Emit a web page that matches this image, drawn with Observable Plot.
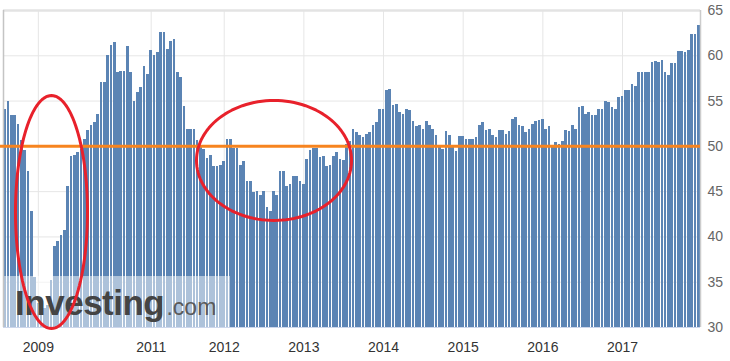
<!DOCTYPE html>
<html><head><meta charset="utf-8">
<script src="https://cdn.jsdelivr.net/npm/d3@7"></script>
<script src="https://cdn.jsdelivr.net/npm/@observablehq/plot@0.6"></script>
<style>
html,body{margin:0;padding:0;background:#fff;}
#chart svg{display:block;}
</style></head><body><div id="chart"></div>
<script>
// Germany manufacturing PMI releases (flash + final)
const values = [
  54.1, 54.9, 53.4, 53.4, 52.4, 50.6, 49.5, 47.2, 42.8, 35.5,
  32.7, 32.0, 32.1, 32.4, 35.2, 38.9, 39.5, 40.2, 40.7, 45.6,
  48.9, 49.0, 49.3, 49.7, 50.8, 51.8, 52.3, 52.6, 53.5, 57.0,
  57.0, 60.0, 61.1, 61.5, 58.2, 58.3, 58.3, 61.0, 58.2, 54.9,
  56.0, 56.5, 58.8, 57.9, 60.6, 60.0, 60.4, 62.6, 62.6, 60.7,
  61.6, 61.8, 58.2, 57.6, 54.4, 51.9, 51.9, 51.9, 50.6, 49.9,
  49.7, 48.7, 49.0, 47.8, 47.8, 47.9, 48.3, 50.8, 50.8, 49.8,
  49.8, 47.9, 48.3, 46.1, 46.1, 44.9, 45.0, 44.6, 45.0, 43.2,
  42.8, 45.0, 44.6, 47.2, 47.2, 45.6, 45.8, 46.7, 46.7, 46.1,
  45.8, 48.5, 49.5, 49.8, 49.8, 48.8, 48.9, 47.8, 47.9, 48.9,
  49.3, 48.5, 48.4, 50.2, 50.5, 51.9, 51.5, 51.2, 51.0, 51.3,
  51.5, 52.3, 52.6, 54.1, 54.1, 56.2, 56.3, 54.5, 54.6, 53.7,
  53.5, 54.1, 54.0, 52.7, 52.2, 52.3, 51.9, 52.7, 52.3, 51.9,
  51.2, 50.1, 49.6, 51.6, 51.2, 50.0, 49.4, 51.1, 51.1, 50.8,
  50.8, 50.8, 51.0, 52.3, 52.6, 51.7, 51.9, 51.2, 51.0, 51.7,
  51.7, 51.3, 51.6, 53.0, 53.2, 52.3, 52.2, 51.5, 51.9, 52.4,
  52.7, 52.9, 53.0, 51.9, 52.2, 49.9, 50.4, 50.2, 50.5, 51.7,
  51.6, 52.3, 51.9, 54.3, 54.4, 53.5, 53.7, 53.4, 53.4, 54.1,
  54.1, 54.9, 54.8, 54.3, 54.1, 55.4, 55.5, 56.2, 56.2, 56.8,
  56.6, 58.1, 58.1, 58.1, 58.1, 59.3, 59.4, 59.3, 59.5, 58.1,
  57.8, 59.2, 59.2, 60.5, 60.5, 60.4, 60.6, 62.3, 62.3, 63.3
];
const yearTickIndex = [10, 44, 66, 90, 114, 138, 162, 186];
const yearTickLabel = ["2009", "2011", "2012", "2013", "2014", "2015", "2016", "2017"];
const yTicks = [30, 35, 40, 45, 50, 55, 60, 65];
const threshold = [50];
// hand-drawn annotation ellipses (in release-index / PMI units)
const ellipses = [
  {cx: 13.96, cy: 42.75, rx: 10.85, ry: 12.86},
  {cx: 81.0, cy: 48.44, rx: 23.35, ry: 6.62}
];
const watermarkBox = {x1: -0.5, x2: 67.9, y1: 30, y2: 35.63};
const watermarkText = [{text: "Investing", x: 3.0, y: 31.35}];
const watermarkCom = [{text: ".com", x: 48.6, y: 31.35}];

const N = values.length;
const data = values.map((v, i) => ({i, v}));
const ellipsePts = ellipses.flatMap((e, k) =>
  d3.range(0, 361, 3).map(a => ({k, x: e.cx + e.rx * Math.cos(a * Math.PI / 180), y: e.cy + e.ry * Math.sin(a * Math.PI / 180)})));

const font = '"Liberation Sans", Arial, sans-serif';
const chart = Plot.plot({
  width: 730, height: 361,
  marginLeft: 3, marginRight: 30, marginTop: 10, marginBottom: 34,
  style: {fontFamily: font, fontSize: "14px", background: "#fff", overflow: "visible"},
  x: {type: "linear", domain: [-0.5, N - 0.5], axis: null},
  y: {domain: [30, 65], axis: null},
  marks: [
    Plot.gridY(yTicks.filter(d => d > 30 && d < 65), {stroke: "#e6e6e6", strokeOpacity: 1}),
    Plot.gridX(yearTickIndex, {stroke: "#e6e6e6", strokeOpacity: 1}),
    Plot.ruleY([65], {stroke: "#e3e3e3", strokeWidth: 2.5}),
    Plot.rect(data, {x1: d => d.i - 0.4, x2: d => d.i + 0.4, y1: d => 30, y2: d => d.v, fill: "#5b84b4", shapeRendering: "crispEdges"}),
    Plot.rect([watermarkBox], {x1: "x1", x2: "x2", y1: "y1", y2: "y2", fill: "#fff", fillOpacity: 0.5}),
    Plot.text(watermarkText, {x: "x", y: "y", text: "text", textAnchor: "start", lineAnchor: "bottom", fontSize: 35, fontWeight: "bold", fill: "#444", className: "wm"}),
    Plot.text(watermarkCom, {x: "x", y: "y", text: "text", textAnchor: "start", lineAnchor: "bottom", fontSize: 23, fill: "#5a5a5a"}),
    Plot.ruleX([-0.5], {stroke: "#c4c4c4", strokeWidth: 1.5}),
    Plot.ruleX([N - 0.5], {stroke: "#cccccc", strokeWidth: 1.5}),
    Plot.ruleY([30], {stroke: "#ccd6eb"}),
    Plot.ruleY(threshold, {stroke: "#f7841f", strokeWidth: 3, insetLeft: -3}),
    Plot.line(ellipsePts, {x: "x", y: "y", z: "k", stroke: "#e8212b", strokeWidth: 3, curve: "linear-closed"}),
    Plot.axisY(yTicks, {anchor: "right", tickSize: 0, tickPadding: 7, fontSize: 14, fill: "#666"}),
    Plot.axisX(yearTickIndex, {anchor: "bottom", tickSize: 0, tickPadding: 15, fontSize: 14, fill: "#333",
      tickFormat: d => yearTickLabel[yearTickIndex.indexOf(d)]})
  ]
});
d3.select(chart).selectAll(".wm text").style("letter-spacing", "-0.5px");
document.getElementById("chart").appendChild(chart);
</script>
</body></html>
